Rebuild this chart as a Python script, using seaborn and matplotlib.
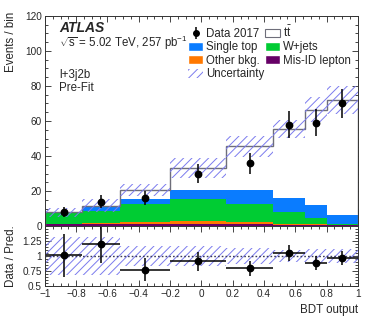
"""
BDT output distribution, l+3j2b region, pre-fit (stacked MC + data, ratio panel).
"""

import numpy as np
import pandas as pd
import matplotlib
matplotlib.use("Agg")
import matplotlib.pyplot as plt
import seaborn as sns
from matplotlib.patches import Patch
from matplotlib.ticker import MultipleLocator, FuncFormatter


# ── Data ───────────────────────────────────────────────────────────────────────
EDGES      = [-1.0, -0.76, -0.52, -0.2, 0.16, 0.46, 0.66, 0.80, 1.0]
TTBAR      = [0.1, 0.9, 5.3, 12.3, 24.9, 39.3, 54.7, 65.7]
SINGLE_TOP = [0.4, 1.9, 2.8, 5.4, 8.0, 8.0, 7.2, 5.4]
WJETS      = [6.1, 7.0, 10.3, 12.3, 10.4, 6.6, 3.6, 0.5]
OTHER_BKG  = [0.3, 0.8, 1.1, 1.7, 1.1, 0.5, 0.4, 0.2]
MIS_ID     = [1.0, 1.0, 1.2, 1.3, 1.1, 0.9, 0.6, 0.4]
DATA       = [8, 14, 16, 30, 36, 58, 59, 70]
REL_UNC    = [0.32, 0.32, 0.17, 0.17, 0.135, 0.095, 0.11, 0.11]

PROCESSES = ["ttbar", "Single top", "W+jets", "Other bkg.", "Mis-ID lepton"]
COLORS    = {
    "ttbar":         "#FFFFFF",
    "Single top":    "#0A7CFF",
    "W+jets":        "#00CC33",
    "Other bkg.":    "#FF7800",
    "Mis-ID lepton": "#660066",
}
UNC_COLOR = "#7B7BEE"


# ── Style ──────────────────────────────────────────────────────────────────────
sns.set_style("ticks")
plt.rcParams["font.family"] = ["Liberation Sans", "DejaVu Sans"]
plt.rcParams["mathtext.fontset"] = "custom"
plt.rcParams["mathtext.rm"] = "Liberation Sans"
plt.rcParams["mathtext.it"] = "Liberation Sans:italic"
plt.rcParams["mathtext.bf"] = "Liberation Sans:bold"
plt.rcParams["mathtext.default"] = "regular"
plt.rcParams["hatch.linewidth"] = 0.7
plt.rcParams["axes.linewidth"] = 0.7

FS  = 8.3   # labels, legend, annotations
TFS = 7.2   # tick labels

edges   = np.array(EDGES)
centers = 0.5 * (edges[1:] + edges[:-1])
halfw   = 0.5 * (edges[1:] - edges[:-1])
data    = np.array(DATA, dtype=float)

comps = {
    "ttbar": TTBAR, "Single top": SINGLE_TOP, "W+jets": WJETS,
    "Other bkg.": OTHER_BKG, "Mis-ID lepton": MIS_ID,
}
total = np.sum([np.array(v) for v in comps.values()], axis=0)
unc   = total * np.array(REL_UNC)

df = pd.DataFrame([
    {"x": c, "w": w, "process": p}
    for p, vals in comps.items() for c, w in zip(centers, vals)
])

fig = plt.figure(figsize=(3.74, 3.18), dpi=100)
ax  = fig.add_axes([0.120, 0.289, 0.837, 0.661])
rax = fig.add_axes([0.120, 0.101, 0.837, 0.188], sharex=ax)

# ── Main panel ─────────────────────────────────────────────────────────────────
sns.histplot(data=df, x="x", weights="w", hue="process", hue_order=PROCESSES,
             bins=list(EDGES), multiple="stack", element="step", fill=True,
             palette=COLORS, alpha=1, linewidth=0, legend=False, ax=ax)
ax.stairs(total, edges, color="#6E6E7A", linewidth=1.0)
ax.stairs(total + unc, edges, baseline=total - unc, fill=True, hatch="////",
          facecolor="none", edgecolor=UNC_COLOR, linewidth=0)
ax.errorbar(centers, data, yerr=np.sqrt(data), fmt="o", color="black",
            markersize=4.6, elinewidth=1.1, capsize=0)

ax.set_xlim(-1, 1)
ax.set_ylim(0, 120)
ax.set_xlabel("")
ax.set_ylabel("Events / bin", loc="top", fontsize=FS)
ax.yaxis.set_label_coords(-0.09, 1.02)
ax.yaxis.set_major_locator(MultipleLocator(20))
ax.yaxis.set_minor_locator(MultipleLocator(5))
ax.tick_params(labelbottom=False)

fig.text(0.158, 0.912, "ATLAS", fontsize=10, fontweight="bold", style="italic", va="center")
fig.text(0.158, 0.865, r"$\sqrt{s}$ = 5.02 TeV, 257 pb$^{-1}$", fontsize=FS, va="center")
fig.text(0.158, 0.764, "l+3j2b", fontsize=FS, va="center")
fig.text(0.158, 0.723, "Pre-Fit", fontsize=FS, va="center")

data_h = ax.errorbar([], [], yerr=[], fmt="o", color="black", markersize=4, elinewidth=1.1)
handles = [
    data_h,
    Patch(facecolor=COLORS["Single top"]),
    Patch(facecolor=COLORS["Other bkg."]),
    Patch(facecolor="none", edgecolor=UNC_COLOR, hatch="////", linewidth=0),
    Patch(facecolor="white", edgecolor="#6E6E7A", linewidth=0.8),
    Patch(facecolor=COLORS["W+jets"]),
    Patch(facecolor=COLORS["Mis-ID lepton"]),
]
labels = ["Data 2017", "Single top", "Other bkg.", "Uncertainty",
          r"$t\bar{t}$", "W+jets", "Mis-ID lepton"]
fig.legend(handles, labels, ncol=2, loc="upper left", bbox_to_anchor=(0.503, 0.922),
           frameon=False, fontsize=FS, borderpad=0, borderaxespad=0,
           handlelength=1.3, handleheight=0.8, handletextpad=0.25,
           labelspacing=0.12, columnspacing=0.1)

# ── Ratio panel ────────────────────────────────────────────────────────────────
rax.stairs(1 + np.array(REL_UNC), edges, baseline=1 - np.array(REL_UNC), fill=True,
           hatch="////", facecolor="none", edgecolor=UNC_COLOR, linewidth=0)
rax.axhline(1, color="#3A3A5A", linestyle=(0, (1.2, 1.5)), linewidth=1.0)
rax.errorbar(centers, data / total, xerr=halfw, yerr=np.sqrt(data) / total,
             fmt="o", color="black", markersize=4.6, elinewidth=1.1, capsize=0)
rax.set_ylim(0.5, 1.5)
rax.set_yticks([0.5, 0.75, 1, 1.25])
rax.set_yticklabels(["0.5", "0.75", "1", "1.25"])
rax.yaxis.set_minor_locator(MultipleLocator(0.05))
rax.set_ylabel("Data / Pred.", fontsize=FS)
rax.yaxis.set_label_coords(-0.09, 0.5)
rax.set_xlabel("BDT output", loc="right", fontsize=FS)
rax.xaxis.set_major_locator(MultipleLocator(0.2))
rax.xaxis.set_minor_locator(MultipleLocator(0.05))
rax.xaxis.set_major_formatter(FuncFormatter(
    lambda v, _: ("%g" % round(v, 2)).replace("-", "\u2212") if abs(v) > 1e-9 else "0"))

for a in (ax, rax):
    a.tick_params(which="both", direction="in", top=True, right=True,
                  labelsize=TFS, width=0.6, pad=2)
    a.tick_params(which="major", length=4.5)
    a.tick_params(which="minor", length=2.2)
    for s in a.spines.values():
        s.set_color("#333333")

fig.savefig("out.png", dpi=100)
